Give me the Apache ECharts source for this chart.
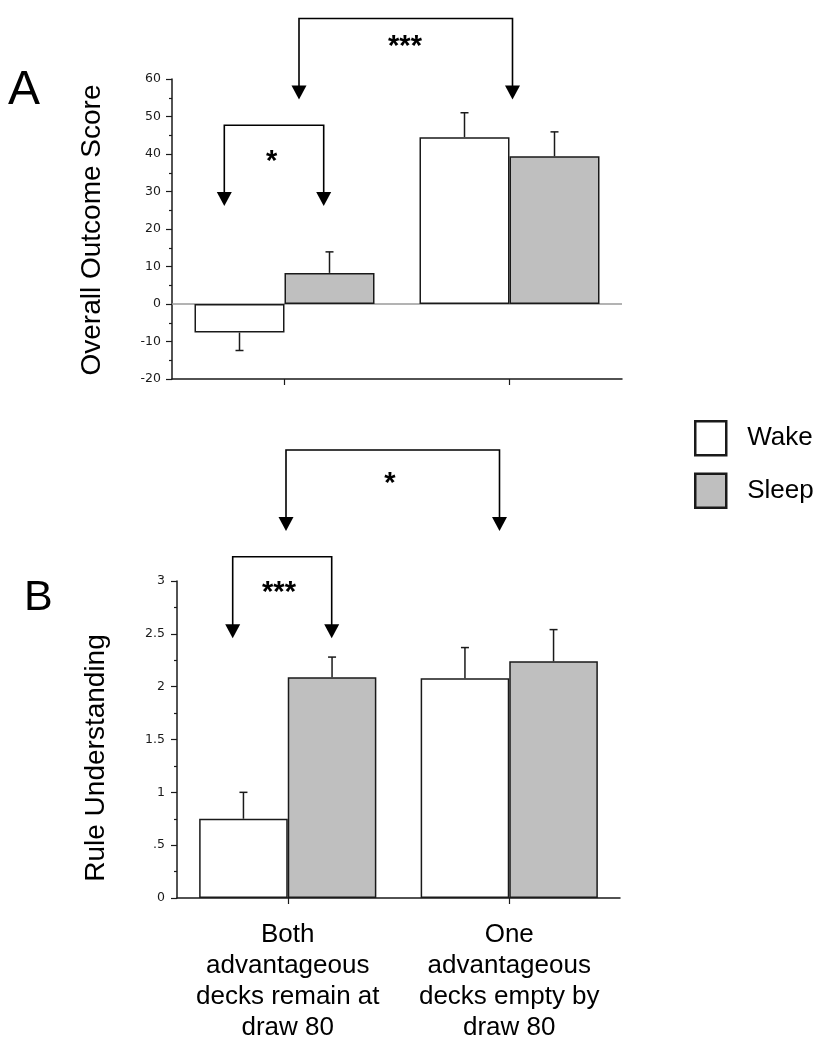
<!DOCTYPE html>
<html>
<head>
<meta charset="utf-8">
<script src="https://cdn.jsdelivr.net/npm/echarts@6/dist/echarts.min.js"></script>
<style>html,body{margin:0;padding:0;background:#fff}#c{width:828px;height:1050px}</style>
</head>
<body>
<div id="c"></div>
<script>
// ---- data ----
const categories = ['Both\nadvantageous\ndecks remain at\ndraw 80', 'One\nadvantageous\ndecks empty by\ndraw 80'];
const seriesNames = ['Wake', 'Sleep'];
const outcomeWake = [-7.6, 44.5];
const outcomeWakeErr = [4.8, 6.5];
const outcomeSleep = [8.3, 39.4];
const outcomeSleepErr = [5.6, 6.5];
const ruleWake = [0.75, 2.08];
const ruleWakeErr = [0.25, 0.29];
const ruleSleep = [2.09, 2.24];
const ruleSleepErr = [0.19, 0.30];
const ruleTickLabels = ['0', '.5', '1', '1.5', '2', '2.5', '3'];
const panelLetters = ['A', 'B'];
const yTitles = ['Overall Outcome Score', 'Rule Understanding'];
const sigLabels = ['***', '*', '*', '***'];

// ---- styles ----
const INK = '#1a1a1a';
const GREY = '#bfbfbf';
const SANS = '"Liberation Sans", Arial, sans-serif';
const TICKFONT = '"DejaVu Sans", Verdana, sans-serif';

function errData(vals, errs, which) {
  return vals.map((v, i) => [i, v, errs[i], which]);
}
function errRender(params, api) {
  const cat = api.value(0), v = api.value(1), e = api.value(2), which = api.value(3);
  const catW = api.size([1, 0])[0];
  const bw = catW * 0.8 / 2;
  const cx = api.coord([cat, 0])[0] + (which === 0 ? -bw / 2 : bw / 2);
  const y0 = api.coord([cat, v])[1];
  const y1 = api.coord([cat, v + (v < 0 ? -e : e)])[1];
  const st = { stroke: INK, lineWidth: 1.5 };
  return { type: 'group', children: [
    { type: 'line', shape: { x1: cx, y1: y0, x2: cx, y2: y1 }, style: st },
    { type: 'line', shape: { x1: cx - 4, y1: y1, x2: cx + 4, y2: y1 }, style: st }
  ]};
}

function yAxisBase(extra) {
  return Object.assign({
    type: 'value',
    axisLine: { show: true, lineStyle: { color: INK, width: 1.5 } },
    axisTick: { show: true, length: 6, lineStyle: { color: INK, width: 1.2 } },
    minorTick: { show: true, splitNumber: 2, length: 3, lineStyle: { color: INK, width: 1.2 } },
    splitLine: { show: false },
    minorSplitLine: { show: false },
    axisLabel: { fontFamily: TICKFONT, fontSize: 12.5, color: INK, margin: 11 }
  }, extra);
}
function xAxisBase(extra) {
  return Object.assign({
    type: 'category',
    data: categories,
    axisLine: { show: true, onZero: false, lineStyle: { color: INK, width: 1.5 } },
    axisTick: { show: true, alignWithLabel: true, length: 6, lineStyle: { color: INK, width: 1.2 } }
  }, extra);
}
function barSeries(name, data, axisIdx, color, extra) {
  return Object.assign({
    type: 'bar', name: name, data: data,
    xAxisIndex: axisIdx, yAxisIndex: axisIdx,
    barGap: '0%', barCategoryGap: '20%',
    itemStyle: { color: color, borderColor: INK, borderWidth: 1.5 },
    emphasis: { disabled: true },
    animation: false
  }, extra || {});
}
function errSeries(data, axisIdx) {
  return {
    type: 'custom', renderItem: errRender, data: data,
    xAxisIndex: axisIdx, yAxisIndex: axisIdx,
    encode: { x: 0, y: 1 }, z: 5, silent: true, animation: false
  };
}

// ---- annotation brackets (pixel layout) ----
const brackets = [
  { x1: 299, x2: 512.5, y: 18.5, tip: 99.5, lx: 405, ly: 42 },
  { x1: 224.3, x2: 323.7, y: 125.3, tip: 206, lx: 271.7, ly: 156.7 },
  { x1: 286, x2: 499.5, y: 450, tip: 531, lx: 390, ly: 479 },
  { x1: 232.7, x2: 331.7, y: 556.7, tip: 638.3, lx: 279, ly: 588 }
];
const graphics = [];
brackets.forEach((b, i) => {
  const ah = 14, aw = 7.5;
  graphics.push({ type: 'polyline', shape: { points: [[b.x1, b.tip - ah + 1], [b.x1, b.y], [b.x2, b.y], [b.x2, b.tip - ah + 1]] },
    style: { stroke: '#000', lineWidth: 1.6, fill: null } });
  [b.x1, b.x2].forEach(x => graphics.push({ type: 'polygon',
    shape: { points: [[x - aw, b.tip - ah], [x + aw, b.tip - ah], [x, b.tip]] }, style: { fill: '#000' } }));
  graphics.push({ type: 'text', x: b.lx, y: b.ly + 5, style: { text: sigLabels[i], fill: '#000',
    font: 'bold 29px ' + SANS, textAlign: 'center', textVerticalAlign: 'middle' } });
});
graphics.push({ type: 'text', x: 8, y: 67, style: { text: panelLetters[0], fill: '#000', font: '48px ' + SANS, textAlign: 'left', textVerticalAlign: 'alphabetic' } });
graphics.push({ type: 'text', x: 24, y: 577, style: { text: panelLetters[1], fill: '#000', font: '43px ' + SANS, textAlign: 'left', textVerticalAlign: 'alphabetic' } });
graphics.push({ type: 'text', x: 92, y: 230, rotation: Math.PI / 2, style: { text: yTitles[0], fill: '#000', font: '28px ' + SANS, textAlign: 'center', textVerticalAlign: 'middle' } });
graphics.push({ type: 'text', x: 96, y: 758, rotation: Math.PI / 2, style: { text: yTitles[1], fill: '#000', font: '28px ' + SANS, textAlign: 'center', textVerticalAlign: 'middle' } });

const option = {
  animation: false,
  backgroundColor: '#fff',
  grid: [
    { left: 172, right: 206, top: 79, bottom: 671 },
    { left: 177, right: 208, top: 581, bottom: 152 }
  ],
  legend: {
    orient: 'vertical', left: 694, top: 420, padding: 0,
    itemWidth: 31, itemHeight: 34, itemGap: 16, icon: 'rect',
    data: seriesNames,
    selectedMode: false,
    itemStyle: { borderColor: INK, borderWidth: 2.5 },
    textStyle: { fontFamily: SANS, fontSize: 26, color: '#000', padding: [0, 0, 0, 16] }
  },
  xAxis: [
    xAxisBase({ gridIndex: 0, axisLabel: { show: false } }),
    xAxisBase({ gridIndex: 1, axisLabel: { interval: 0, fontFamily: SANS, fontSize: 26, lineHeight: 31, color: '#000', margin: 21 } })
  ],
  yAxis: [
    yAxisBase({ gridIndex: 0, min: -20, max: 60, interval: 10 }),
    yAxisBase({ gridIndex: 1, min: 0, max: 3, interval: 0.5,
      axisLabel: { fontFamily: TICKFONT, fontSize: 12.5, color: INK, margin: 12,
        formatter: v => ruleTickLabels[Math.round(v / 0.5)] } })
  ],
  series: [
    barSeries(seriesNames[0], outcomeWake, 0, '#ffffff', {
      markLine: { silent: true, symbol: 'none', label: { show: false },
        lineStyle: { color: '#9a9a9a', width: 1.5, type: 'solid' }, data: [{ yAxis: 0 }], z: 1 } }),
    barSeries(seriesNames[1], outcomeSleep, 0, GREY),
    errSeries(errData(outcomeWake, outcomeWakeErr, 0).concat(errData(outcomeSleep, outcomeSleepErr, 1)), 0),
    barSeries(seriesNames[0], ruleWake, 1, '#ffffff'),
    barSeries(seriesNames[1], ruleSleep, 1, GREY),
    errSeries(errData(ruleWake, ruleWakeErr, 0).concat(errData(ruleSleep, ruleSleepErr, 1)), 1)
  ],
  graphic: graphics
};
const chart = echarts.init(document.getElementById('c'), null, { renderer: 'canvas' });
chart.setOption(option);
</script>
</body>
</html>
